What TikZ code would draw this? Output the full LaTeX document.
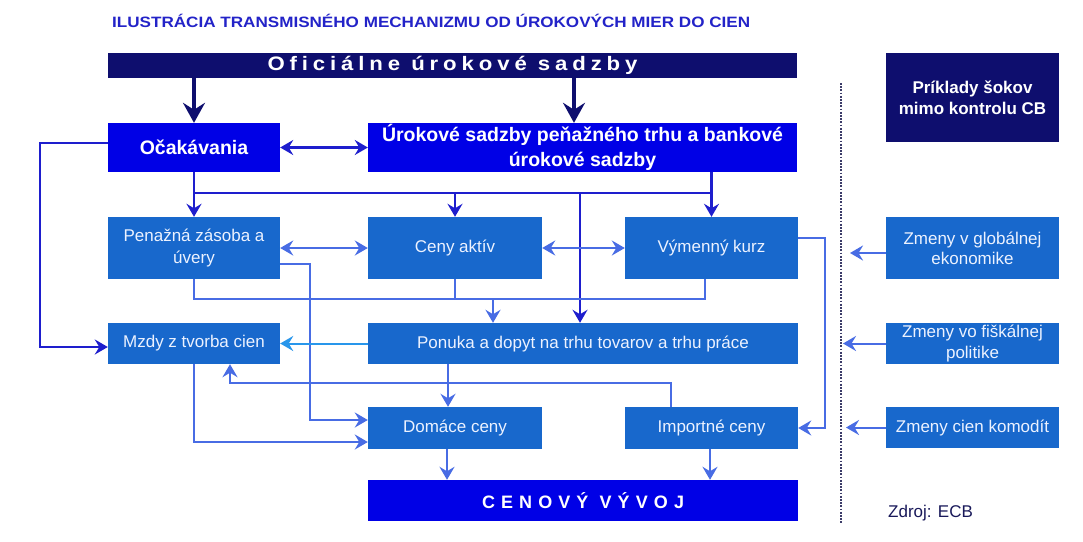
\documentclass[tikz,border=0pt]{standalone}
\usepackage{fontspec}
\setmainfont{Liberation Sans}
\usepackage{graphicx}
\usetikzlibrary{arrows.meta}
\definecolor{navy}{RGB}{14,14,110}
\definecolor{bright}{RGB}{0,0,230}
\definecolor{medbox}{RGB}{24,104,204}
\definecolor{dkline}{RGB}{30,30,205}
\definecolor{mdline}{RGB}{72,108,228}
\definecolor{ltline}{RGB}{40,150,235}
\definecolor{txtlight}{RGB}{236,242,255}
\definecolor{titleblue}{RGB}{35,35,200}
\definecolor{dotcol}{RGB}{60,60,105}
\definecolor{srccol}{RGB}{25,25,90}
\tikzset{
  navybox/.style={fill=navy, text=white, inner sep=0pt, align=center,
    font=\bfseries\fontsize{17}{21}\selectfont},
  brightbox/.style={fill=bright, text=white, inner sep=0pt, align=center,
    font=\bfseries\fontsize{19.5}{25}\selectfont},
  medbx/.style={fill=medbox, text=txtlight, inner sep=0pt, align=center,
    font=\fontsize{17}{22}\selectfont},
  dk/.style={draw=dkline, line width=2.2pt},
  md/.style={draw=mdline, line width=2pt},
  lt/.style={draw=ltline, line width=2pt},
  thickarrow/.style={draw=navy, line width=4.5pt,
    -{Stealth[length=20pt,width=22pt,inset=7pt]}},
  dotline/.style={draw=dotcol, line width=2.4pt, dash pattern=on 1.8pt off 1.4pt},
}
\begin{document}
\begin{tikzpicture}[x=1pt,y=-1pt,
  >={Stealth[length=13pt,width=15pt,inset=4.5pt]}]
\useasboundingbox[fill=white] (0,0) rectangle (1083,541);

% title
\node[anchor=base west, inner sep=0pt, text=titleblue] (title) at (112,27)
  {\resizebox{638pt}{\height}{\bfseries\fontsize{15}{15}\selectfont ILUSTRÁCIA TRANSMISNÉHO MECHANIZMU OD ÚROKOVÝCH MIER DO CIEN}};

% boxes
\node[navybox, minimum width=689pt, minimum height=25pt] (top) at (452.5,65.5)
  {\resizebox{370pt}{\height}{\bfseries\fontsize{19.5}{19.5}\selectfont\addfontfeature{LetterSpace=22}Oficiálne úrokové sadzby}};
\node[brightbox, minimum width=172pt, minimum height=49pt] (ocak) at (194,147.5) {Očakávania};
\node[brightbox, minimum width=429pt, minimum height=49pt] (urok) at (582.5,147.5)
  {Úrokové sadzby peňažného trhu a bankové\\úrokové sadzby};
\node[medbx, minimum width=172pt, minimum height=62pt] (pen) at (194,248) {Penažná zásoba a\\úvery};
\node[medbx, minimum width=174pt, minimum height=62pt] (ceny) at (455,248) {Ceny aktív};
\node[medbx, minimum width=173pt, minimum height=62pt] (vym) at (711.5,248) {Výmenný kurz};
\node[medbx, minimum width=172pt, minimum height=41pt] (mzdy) at (194,343.5) {Mzdy z tvorba cien};
\node[medbx, minimum width=430pt, minimum height=41pt] (ponuka) at (583,343.5)
  {Ponuka a dopyt na trhu tovarov a trhu práce};
\node[medbx, minimum width=174pt, minimum height=42pt] (domace) at (455,428) {Domáce ceny};
\node[medbx, minimum width=173pt, minimum height=42pt] (import) at (711.5,428) {Importné ceny};
\node[fill=bright, text=white, inner sep=0pt, minimum width=430pt, minimum height=41pt] (cenovy) at (583,500.5)
  {\resizebox{202pt}{\height}{\bfseries\fontsize{18}{18}\selectfont\addfontfeature{LetterSpace=34}CENOVÝ VÝVOJ}};

\node[navybox, minimum width=173pt, minimum height=89pt] (prik) at (972.5,97.5)
  {Príklady šokov\\mimo kontrolu CB};
\node[medbx, minimum width=173pt, minimum height=62pt, font=\fontsize{17}{20}\selectfont] (glob) at (972.5,248)
  {Zmeny v globálnej\\ekonomike};
\node[medbx, minimum width=173pt, minimum height=41pt, font=\fontsize{17}{21}\selectfont] (fisk) at (972.5,343.5)
  {Zmeny vo fiškálnej\\politike};
\node[medbx, minimum width=173pt, minimum height=41pt] (komod) at (972.5,427.5) {Zmeny cien komodít};

\node[anchor=base west, inner sep=0pt, text=srccol, font=\fontsize{17}{17}\selectfont] (src) at (888,517) {Zdroj: ECB};

% helper coordinates
\coordinate (hubA) at (0,193);
\coordinate (hubB) at (0,299);
\coordinate (hubC) at (0,383);
\coordinate (leftX) at (40,0);
\coordinate (midX) at (310,0);
\coordinate (rightX) at (825,0);
\coordinate (u1) at ([xshift=-8.5pt]urok.north);
\coordinate (oW) at ([yshift=4.5pt]ocak.west);
\coordinate (mW) at ([yshift=-3.5pt]mzdy.west);
\coordinate (pN) at ([xshift=-3pt]ponuka.north);
\coordinate (pE) at ([yshift=-16pt]pen.east);
\coordinate (dW1) at ([yshift=8pt]domace.west);
\coordinate (vS) at ([xshift=-6.5pt]vym.south);
\coordinate (pN2) at ([xshift=-90pt]ponuka.north);
\coordinate (dN) at ([xshift=-7pt]domace.north);
\coordinate (iN) at ([xshift=-40.5pt]import.north);
\coordinate (mS) at ([xshift=36pt]mzdy.south);
\coordinate (dW2) at ([yshift=-14pt]domace.west);
\coordinate (dS) at ([xshift=-8pt]domace.south);
\coordinate (iS) at ([xshift=-1.5pt]import.south);
\coordinate (vE) at ([yshift=10pt]vym.east);
\coordinate (gW) at ([yshift=-5pt]glob.west);
\coordinate (gEnd) at (850,0);
\coordinate (fEnd) at (843,0);
\coordinate (kEnd) at (846,0);
\coordinate (dotTop) at (841,83);
\coordinate (dotBot) at (841,523);

% thick arrows
\draw[thickarrow] (ocak.north |- top.south) -- (ocak.north);
\draw[thickarrow] (u1 |- top.south) -- (u1);

% dark connectors
\draw[dk,->] (oW) -- (oW -| leftX) -- (mW -| leftX) -- (mW);
\draw[dk,<->] (ocak.east) -- (urok.west);
\draw[dk,->] (ocak.south) -- (pen.north);
\draw[dk] (ocak.south |- hubA) -- (vym.north |- hubA);
\draw[dk,->] (urok.south -| vym.north) -- (vym.north);
\draw[dk,->] (ceny.north |- hubA) -- (ceny.north);
\draw[dk,->] (pN |- hubA) -- (pN);

% medium connectors
\draw[md,<->] (pen.east) -- (ceny.west);
\draw[md,<->] (ceny.east) -- (vym.west);
\draw[md,->] (pE) -- (pE -| midX) -- (dW1 -| midX) -- (dW1);
\draw[md] (pen.south) -- (pen.south |- hubB) -- (vS |- hubB) -- (vS);
\draw[md] (ceny.south) -- (ceny.south |- hubB);
\draw[md,->] (pN2 |- hubB) -- (pN2);
\draw[lt,->] (ponuka.west) -- (mzdy.east);
\draw[md,->] (dN |- ponuka.south) -- (dN);
\draw[md,->] (iN) -- (iN |- hubC) -- (mS |- hubC) -- (mS);
\draw[md,->] (mzdy.south) -- (mzdy.south |- dW2) -- (dW2);
\draw[md,->] (dS) -- (dS |- cenovy.north);
\draw[md,->] (iS) -- (iS |- cenovy.north);
\draw[md,->] (vE) -- (vE -| rightX) -- (import.east -| rightX) -- (import.east);

% right side
\draw[md,->] (gW) -- (gW -| gEnd);
\draw[md,->] (fisk.west) -- (fisk.west -| fEnd);
\draw[md,->] (komod.west) -- (komod.west -| kEnd);
\draw[dotline] (dotTop) -- (dotBot);
\end{tikzpicture}
\end{document}
